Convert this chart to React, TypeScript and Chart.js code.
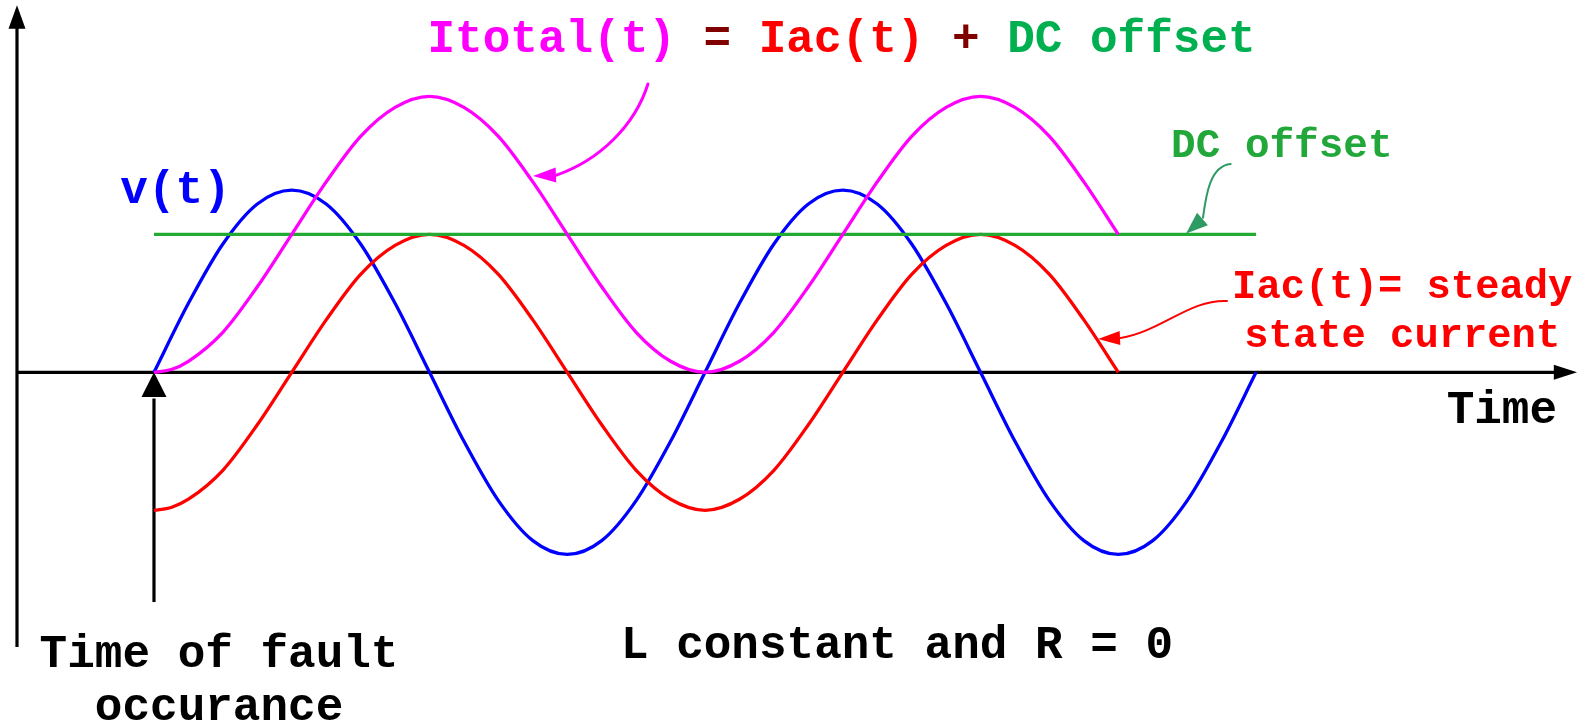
import React, { useEffect, useRef } from "react";
import { Chart, registerables } from "chart.js";

Chart.register(...registerables);

// ---- data (time in electrical degrees, values in units of the Iac amplitude) ----
const TIME_V = [0, 22.5, 45, 67.5, 90, 112.5, 135, 157.5, 180, 202.5, 225, 247.5, 270, 292.5, 315, 337.5, 360, 382.5, 405, 427.5, 450, 472.5, 495, 517.5, 540, 562.5, 585, 607.5, 630, 652.5, 675, 697.5, 720];
const V_T = [0, 0.5, 0.93, 1.22, 1.32, 1.22, 0.93, 0.5, 0, -0.5, -0.93, -1.22, -1.32, -1.22, -0.93, -0.5, 0, 0.5, 0.93, 1.22, 1.32, 1.22, 0.93, 0.5, 0, -0.5, -0.93, -1.22, -1.32, -1.22, -0.93, -0.5, 0];
const TIME_I = [0, 11.25, 22.5, 45, 67.5, 90, 112.5, 135, 157.5, 180, 202.5, 225, 247.5, 270, 292.5, 315, 337.5, 360, 382.5, 405, 427.5, 450, 472.5, 495, 517.5, 540, 562.5, 585, 607.5, 630];
const IAC = [-1, -0.98, -0.92, -0.71, -0.38, 0, 0.38, 0.71, 0.92, 1, 0.92, 0.71, 0.38, 0, -0.38, -0.71, -0.92, -1, -0.92, -0.71, -0.38, 0, 0.38, 0.71, 0.92, 1, 0.92, 0.71, 0.38, 0];
const ITOTAL = [0, 0.02, 0.08, 0.29, 0.62, 1, 1.38, 1.71, 1.92, 2, 1.92, 1.71, 1.38, 1, 0.62, 0.29, 0.08, 0, 0.08, 0.29, 0.62, 1, 1.38, 1.71, 1.92, 2, 1.92, 1.71, 1.38, 1];
const DC_TIME = [0, 720];
const DC_VALUE = [1, 1];

const TITLE_PARTS = ["Itotal(t)", " = ", "Iac(t)", " + ", "DC offset"];
const V_LABEL = "v(t)";
const DC_LABEL = "DC offset";
const IAC_LABEL = ["Iac(t)= steady", "state current"];
const TIME_LABEL = "Time";
const FAULT_LABEL = ["Time of fault", "occurance"];
const NOTE_LABEL = "L constant and R = 0";

const FONT = '"Liberation Mono", "Courier New", monospace';
const C_BLUE = "#0000ff";
const C_RED = "#ff0000";
const C_MAG = "#ff00ff";
const C_GREEN_LINE = "#22aa33";
const C_GREEN_TITLE = "#00b050";
const C_GREEN_TEXT = "#22a83a";
const C_GREEN_ARROW = "#2e9a64";
const C_DARKRED = "#800000";

const pairs = (xs: number[], ys: number[]) => xs.map((x, i) => ({ x, y: ys[i] }));

function arrowHead(ctx: CanvasRenderingContext2D, tx: number, ty: number, bx: number, by: number, hw: number, color: string) {
  const dx = tx - bx, dy = ty - by;
  const len = Math.hypot(dx, dy) || 1;
  const nx = -dy / len, ny = dx / len;
  ctx.save();
  ctx.fillStyle = color;
  ctx.beginPath();
  ctx.moveTo(tx, ty);
  ctx.lineTo(bx + nx * hw, by + ny * hw);
  ctx.lineTo(bx - nx * hw, by - ny * hw);
  ctx.closePath();
  ctx.fill();
  ctx.restore();
}

const decorPlugin = {
  id: "decor",
  beforeDatasetsDraw(chart: any) {
    const ctx: CanvasRenderingContext2D = chart.ctx;
    const xs = chart.scales.x, ys = chart.scales.y;
    const X = (t: number) => xs.getPixelForValue(t);
    const Y = (v: number) => ys.getPixelForValue(v);
    ctx.save();
    ctx.strokeStyle = "#000";
    ctx.lineWidth = 3.2;
    ctx.lineCap = "butt";
    // y axis
    ctx.beginPath();
    ctx.moveTo(X(-89.5), Y(-1.991));
    ctx.lineTo(X(-89.5), Y(2.5));
    ctx.stroke();
    arrowHead(ctx, X(-89.5), Y(2.66), X(-89.5), Y(2.49), 8.5, "#000");
    // x axis
    ctx.beginPath();
    ctx.moveTo(X(-89.5), Y(0));
    ctx.lineTo(X(916), Y(0));
    ctx.stroke();
    arrowHead(ctx, X(929.7), Y(0), X(914.5), Y(0), 7.5, "#000");
    // fault arrow
    ctx.beginPath();
    ctx.moveTo(X(0), Y(-1.665));
    ctx.lineTo(X(0), Y(-0.19));
    ctx.stroke();
    arrowHead(ctx, X(0), Y(0), X(0), Y(-0.179), 12.5, "#000");
    ctx.restore();
  },
  afterDatasetsDraw(chart: any) {
    const ctx: CanvasRenderingContext2D = chart.ctx;
    const xs = chart.scales.x, ys = chart.scales.y;
    const X = (t: number) => xs.getPixelForValue(t);
    const Y = (v: number) => ys.getPixelForValue(v);
    ctx.save();
    ctx.textBaseline = "alphabetic";

    // title
    ctx.font = `bold 46px ${FONT}`;
    const titleColors = [C_MAG, C_DARKRED, C_RED, C_DARKRED, C_GREEN_TITLE];
    const widths = TITLE_PARTS.map((s) => ctx.measureText(s).width);
    const total = widths.reduce((a, b) => a + b, 0);
    let tx = X(449.2) - total / 2;
    ctx.textAlign = "left";
    TITLE_PARTS.forEach((s, i) => {
      ctx.fillStyle = titleColors[i];
      ctx.fillText(s, tx, Y(2.321));
      tx += widths[i];
    });

    // v(t)
    ctx.fillStyle = C_BLUE;
    ctx.textAlign = "left";
    ctx.fillText(V_LABEL, X(-22), Y(1.227));

    // Time
    ctx.fillStyle = "#000";
    ctx.fillText(TIME_LABEL, X(844.5), Y(-0.37));

    // fault label
    ctx.textAlign = "center";
    ctx.fillText(FAULT_LABEL[0], X(42.5), Y(-2.133));
    ctx.fillText(FAULT_LABEL[1], X(42.5), Y(-2.52));

    // note
    ctx.fillText(NOTE_LABEL, X(485.4), Y(-2.07));

    // right-side labels
    ctx.font = `bold 41px ${FONT}`;
    ctx.fillStyle = C_GREEN_TEXT;
    ctx.fillText(DC_LABEL, X(736.8), Y(1.562));
    ctx.font = `bold 40.5px ${FONT}`;
    ctx.fillStyle = C_RED;
    ctx.fillText(IAC_LABEL[0], X(815.5), Y(0.538));
    ctx.fillText(IAC_LABEL[1], X(815.5), Y(0.186));

    // annotation arrows
    ctx.lineCap = "round";
    // magenta
    ctx.strokeStyle = C_MAG;
    ctx.lineWidth = 3;
    ctx.beginPath();
    ctx.moveTo(X(322.7), Y(2.089));
    ctx.bezierCurveTo(X(314.3), Y(1.792), X(291.4), Y(1.538), X(263), Y(1.429));
    ctx.stroke();
    arrowHead(ctx, X(247.6), Y(1.422), X(262.6), Y(1.429), 7.5, C_MAG);
    // green
    ctx.strokeStyle = C_GREEN_ARROW;
    ctx.lineWidth = 2;
    ctx.beginPath();
    ctx.moveTo(X(703.4), Y(1.509));
    ctx.bezierCurveTo(X(689.9), Y(1.495), X(687.3), Y(1.285), X(685.3), Y(1.12));
    ctx.stroke();
    arrowHead(ctx, X(674.3), Y(1.006), X(685.0), Y(1.111), 8.2, C_GREEN_ARROW);
    // red
    ctx.strokeStyle = C_RED;
    ctx.lineWidth = 2;
    ctx.beginPath();
    ctx.moveTo(X(701.0), Y(0.517));
    ctx.bezierCurveTo(X(676.9), Y(0.531), X(657.3), Y(0.292), X(631.5), Y(0.249));
    ctx.stroke();
    arrowHead(ctx, X(616.8), Y(0.242), X(631.1), Y(0.249), 7, C_RED);

    ctx.restore();
  },
};

export default function App() {
  const ref = useRef<HTMLCanvasElement | null>(null);
  useEffect(() => {
    document.body.style.margin = "0";
    const canvas = ref.current;
    if (!canvas) return;
    const lineDs = (label: string, data: any[], color: string, order: number) => ({
      label,
      data,
      borderColor: color,
      backgroundColor: color,
      borderWidth: 3.3,
      pointRadius: 0,
      showLine: true,
      tension: 0.4,
      cubicInterpolationMode: "monotone" as const,
      fill: false,
      order,
    });
    const chart = new Chart(canvas, {
      type: "scatter",
      data: {
        datasets: [
          lineDs("Itotal(t)", pairs(TIME_I, ITOTAL), C_MAG, 0),
          lineDs("DC offset", pairs(DC_TIME, DC_VALUE), C_GREEN_LINE, 1),
          lineDs("Iac(t)", pairs(TIME_I, IAC), C_RED, 2),
          lineDs("v(t)", pairs(TIME_V, V_T), C_BLUE, 3),
        ],
      },
      options: {
        animation: false,
        responsive: false,
        devicePixelRatio: 1,
        layout: { padding: 0 },
        plugins: { legend: { display: false }, tooltip: { enabled: false }, title: { display: false } },
        scales: {
          x: { type: "linear", min: -100.6, max: 936.2, display: false },
          y: { type: "linear", min: -2.556, max: 2.698, display: false },
        },
      },
      plugins: [decorPlugin],
    });
    return () => chart.destroy();
  }, []);
  return (
    <div style={{ position: "absolute", left: 0, top: 0, width: 1587, height: 725, background: "#fff" }}>
      <canvas ref={ref} width={1587} height={725} style={{ display: "block" }} />
    </div>
  );
}
